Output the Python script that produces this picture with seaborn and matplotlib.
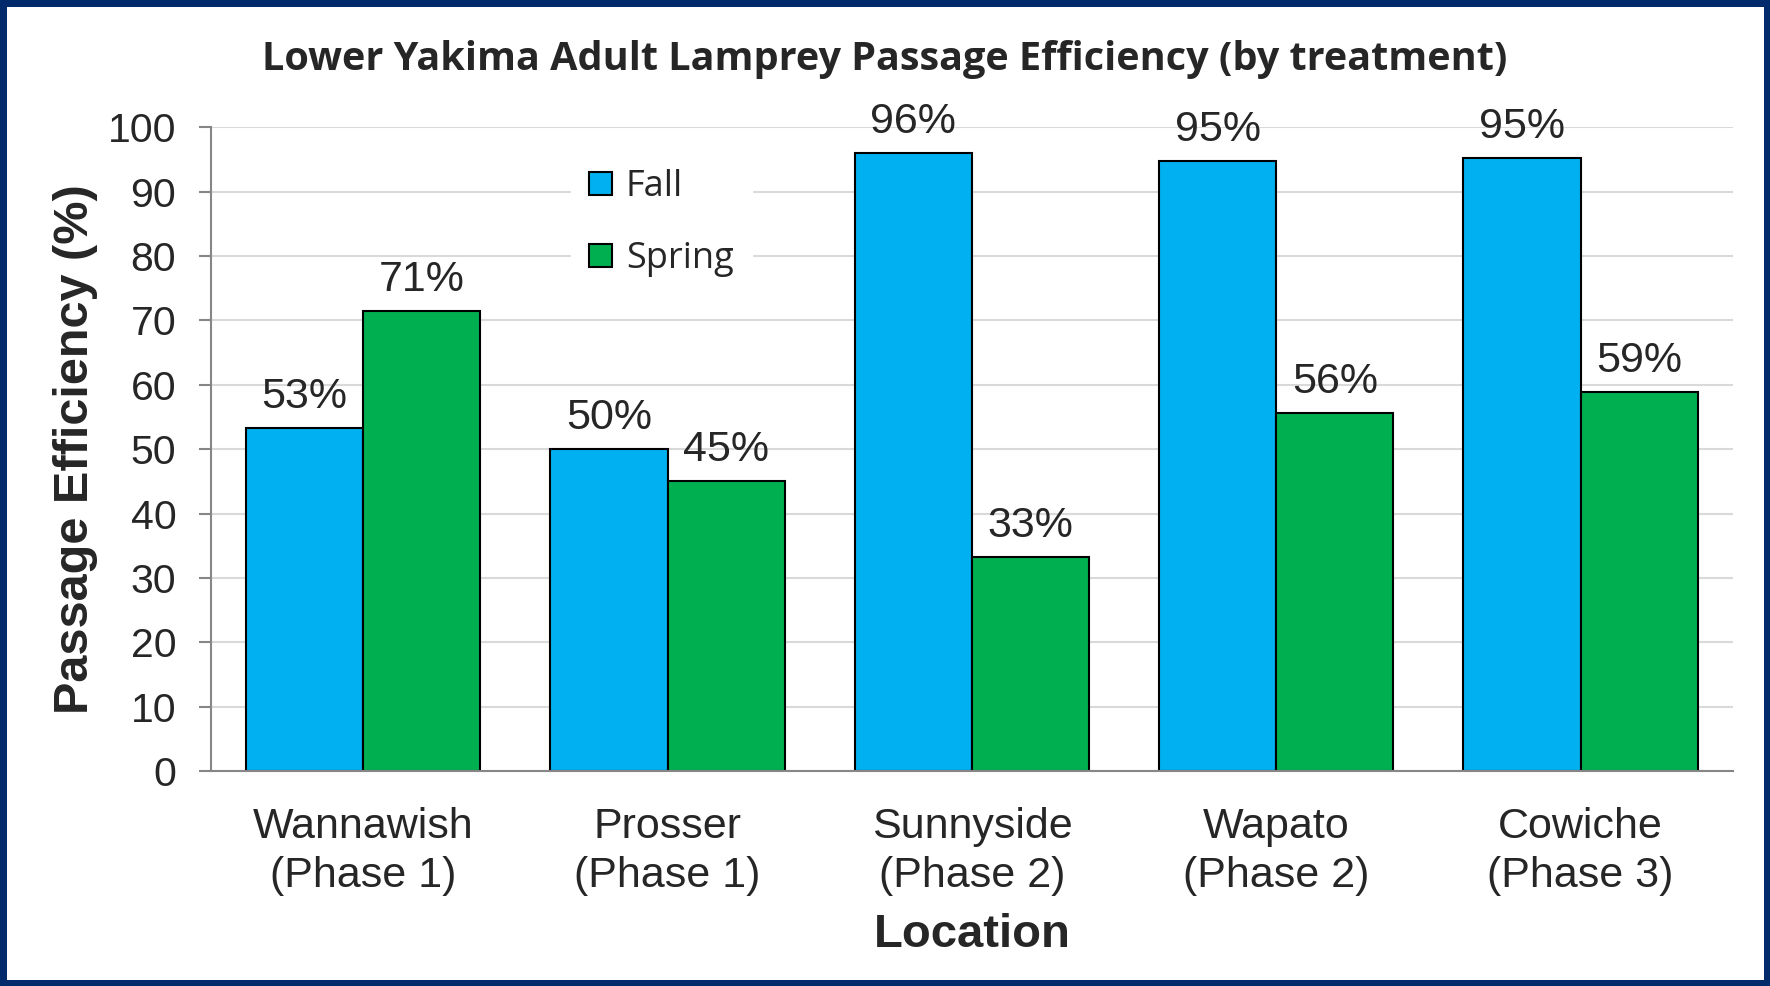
import matplotlib
matplotlib.use("Agg")
import matplotlib.pyplot as plt
import pandas as pd
import seaborn as sns

# datos
locations = ["Wannawish\n(Phase 1)", "Prosser\n(Phase 1)", "Sunnyside\n(Phase 2)",
             "Wapato\n(Phase 2)", "Cowiche\n(Phase 3)"]
fall = [53.3, 50.0, 96.0, 94.7, 95.2]
spring = [71.4, 45.0, 33.3, 55.6, 58.8]
treatments = ["Fall", "Spring"]
colors = ["#00B0F0", "#00B050"]

df = pd.DataFrame({
    "Location": locations * 2,
    "Treatment": ["Fall"] * 5 + ["Spring"] * 5,
    "Efficiency": fall + spring,
})

sns.set_style("white")
plt.rcParams['font.family'] = ['Liberation Sans', 'DejaVu Sans']

fig = plt.figure(figsize=(17.7, 9.86), dpi=100)
ax = fig.add_axes([0.1192, 0.218, 0.8598, 0.653])

sns.barplot(data=df, x="Location", y="Efficiency", hue="Treatment",
            hue_order=treatments, palette=colors, width=0.77, saturation=1,
            edgecolor="black", linewidth=1.5, ax=ax, legend=False)

for cont in ax.containers:
    ax.bar_label(cont, labels=[f"{v:.0f}%" for v in cont.datavalues],
                 padding=8, fontsize=31)

ax.set_ylim(0, 100)
ax.set_yticks(range(0, 101, 10))
ax.yaxis.grid(True, color="#d9d9d9", linewidth=1.5)
ax.set_axisbelow(True)
for s in ["top", "right"]:
    ax.spines[s].set_visible(False)
for s in ["left", "bottom"]:
    ax.spines[s].set_color("#868686")
    ax.spines[s].set_linewidth(1.5)
ax.tick_params(axis="y", direction="out", length=9, width=1.5, color="#868686",
               labelsize=29.5, pad=16, left=True)
ax.tick_params(axis="x", length=0, labelsize=31, pad=26)
for t in ax.get_xticklabels():
    t.set_linespacing(1.3)

ax.set_ylabel("Passage Efficiency (%)", fontsize=35, fontweight="bold", labelpad=7)
ax.set_xlabel("Location", fontsize=34, fontweight="bold", labelpad=12)

fig.text(0.5, 0.94, "Lower Yakima Adult Lamprey Passage Efficiency (by treatment)",
         ha="center", va="center", fontsize=28.5, fontweight="bold",
         family=["Open Sans", "DejaVu Sans"])

handles = [plt.Rectangle((0, 0), 1, 1, facecolor=c, edgecolor="black", linewidth=1.5)
           for c in colors]
leg = ax.legend(handles, treatments, loc="center", bbox_to_anchor=(0.296, 0.851),
                frameon=True, framealpha=1, facecolor="white", edgecolor="white",
                handlelength=0.62, handleheight=0.62, handletextpad=0.4,
                labelspacing=1.0, borderpad=0.5, prop={"family": ["Open Sans"], "size": 26})

fig.patch.set_edgecolor("#002A6C")
fig.patch.set_linewidth(9)

fig.savefig("out.png", dpi=100, edgecolor=fig.get_edgecolor())
